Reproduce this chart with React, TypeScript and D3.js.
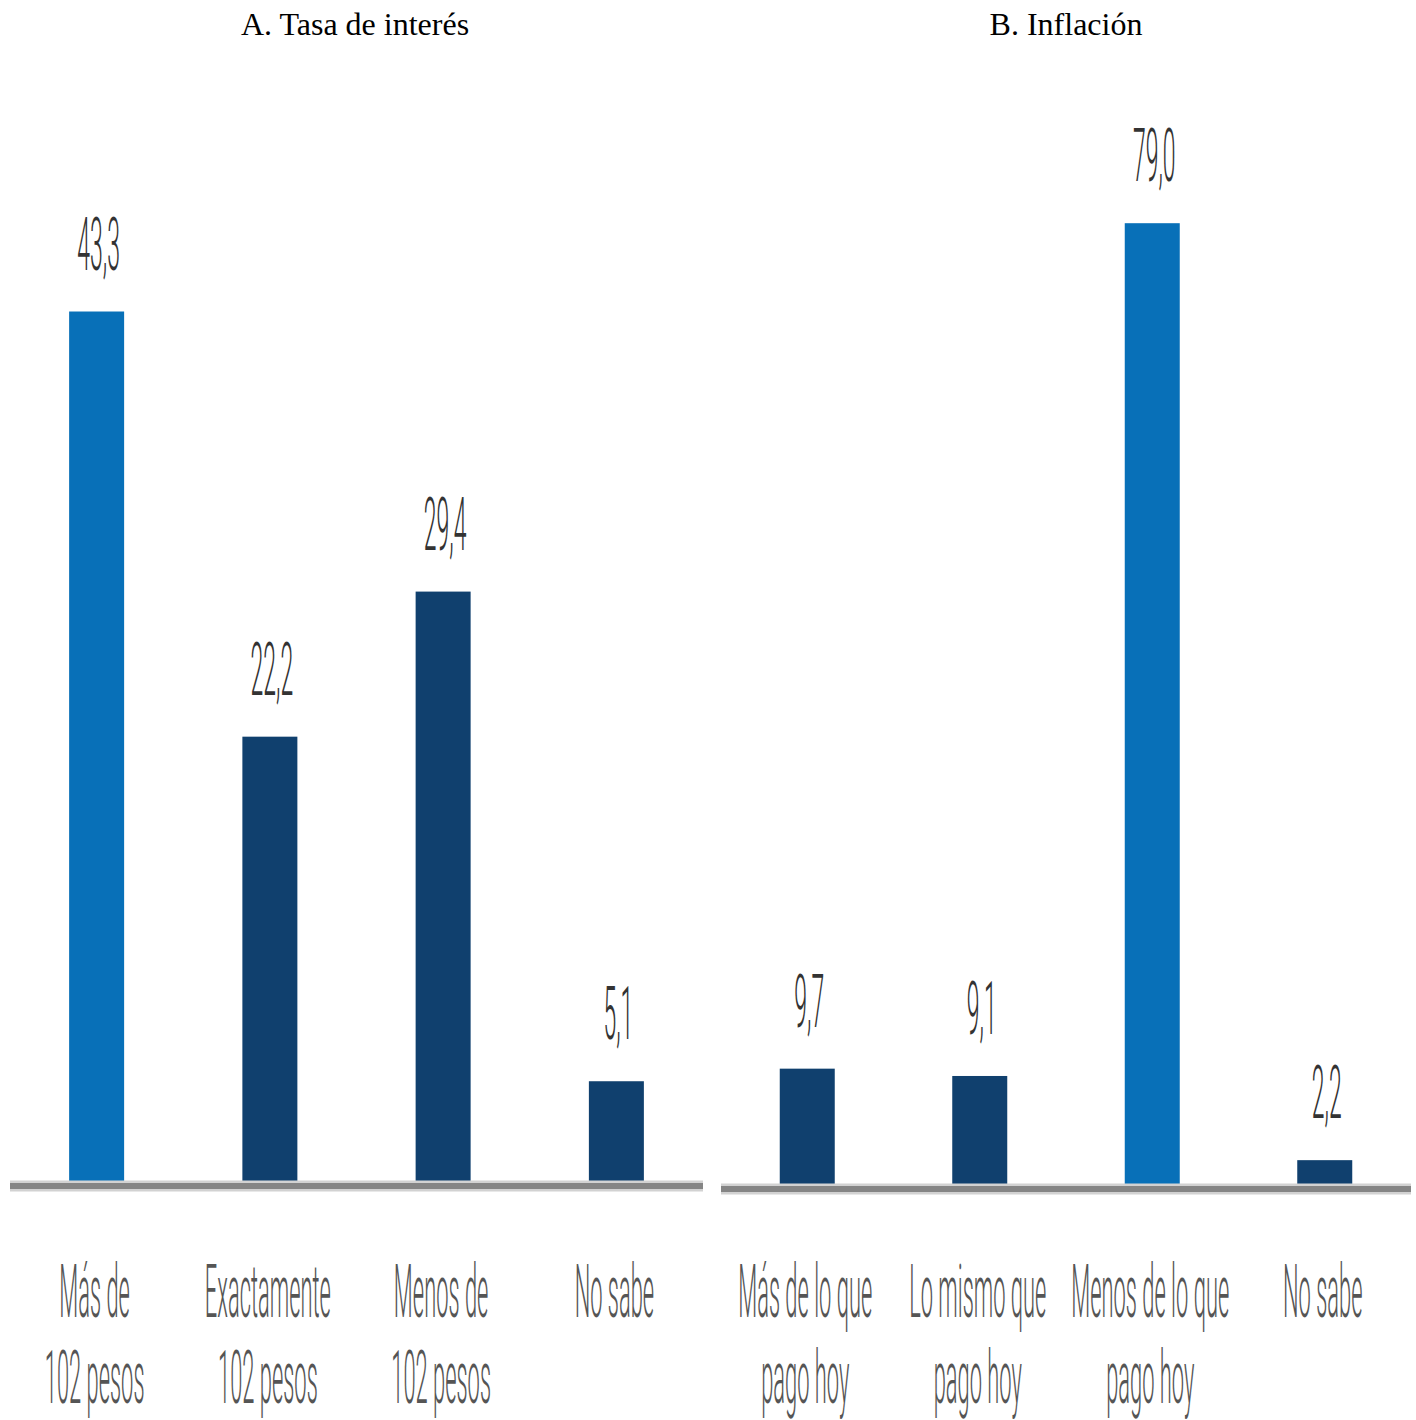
import React from "react";
import * as d3 from "d3";

const catsA = ["Más de\n102 pesos", "Exactamente\n102 pesos", "Menos de\n102 pesos", "No sabe"];
const valsA = [43.3, 22.2, 29.4, 5.1];
const hiA = [true, false, false, false];

const catsB = ["Más de lo que\npago hoy", "Lo mismo que\npago hoy", "Menos de lo que\npago hoy", "No sabe"];
const valsB = [9.7, 9.1, 79.0, 2.2];
const hiB = [false, false, true, false];

const titles = ["A. Tasa de interés", "B. Inflación"];

const W = 1416;
const H = 1420;
const LIGHT = "#0870b8";
const DARK = "#10406e";
const fmt = (v: number) => v.toFixed(1).replace(".", ",");

type PanelProps = {
  cats: string[];
  vals: number[];
  hi: boolean[];
  x0: number;
  x1: number;
  base: number;
  pxPerUnit: number;
  title: string;
  titleX: number;
};

function Panel({ cats, vals, hi, x0, x1, base, pxPerUnit, title, titleX }: PanelProps) {
  const x = d3.scalePoint<string>().domain(cats).range([x0, x1]).padding(0.5);
  const y = d3.scaleLinear().domain([0, 100]).range([base, base - 100 * pxPerUnit]);
  const bw = 55;
  const fs = 74;
  return (
    <g>
      <text x={titleX} y={35} textAnchor="middle" fontFamily="'Liberation Serif', 'Times New Roman', serif" fontSize={32} fill="#000">
        {title}
      </text>
      {cats.map((c, i) => (
        <rect key={"b" + i} x={(x(c) as number) - bw / 2} y={y(vals[i])} width={bw} height={y(0) - y(vals[i])} fill={hi[i] ? LIGHT : DARK} />
      ))}
      <line x1={x0} x2={x1} y1={base + 2} y2={base + 2} stroke="#d2d2d2" strokeWidth={11} />
      <line x1={x0} x2={x1} y1={base + 2} y2={base + 2} stroke="#858585" strokeWidth={6} />
      {cats.map((c, i) => (
        <text key={"v" + i} transform={`translate(${x(c) as number + 2},${y(vals[i]) - 42}) scale(0.31,1)`} textAnchor="middle" fontFamily="Roboto, sans-serif" fontWeight={300} fontSize={fs} fill="#333">
          {fmt(vals[i])}
        </text>
      ))}
      {cats.map((c, i) =>
        c.split("\n").map((line, j) => (
          <text key={"c" + i + "_" + j} transform={`translate(${x(c) as number - 2},${1317 + j * 86}) scale(0.296,1)`} textAnchor="middle" fontFamily="Roboto, sans-serif" fontWeight={300} fontSize={fs} fill="#555">
            {line}
          </text>
        ))
      )}
    </g>
  );
}

export default function App() {
  return (
    <svg width={W} height={H} style={{ position: "absolute", left: 0, top: 0, background: "#fff" }}>
      <rect width={W} height={H} fill="#fff" />
      <Panel cats={catsA} vals={valsA} hi={hiA} x0={10} x1={703} base={1184} pxPerUnit={20.15} title={titles[0]} titleX={355} />
      <Panel cats={catsB} vals={valsB} hi={hiB} x0={721} x1={1411} base={1187} pxPerUnit={12.2} title={titles[1]} titleX={1066} />
    </svg>
  );
}
